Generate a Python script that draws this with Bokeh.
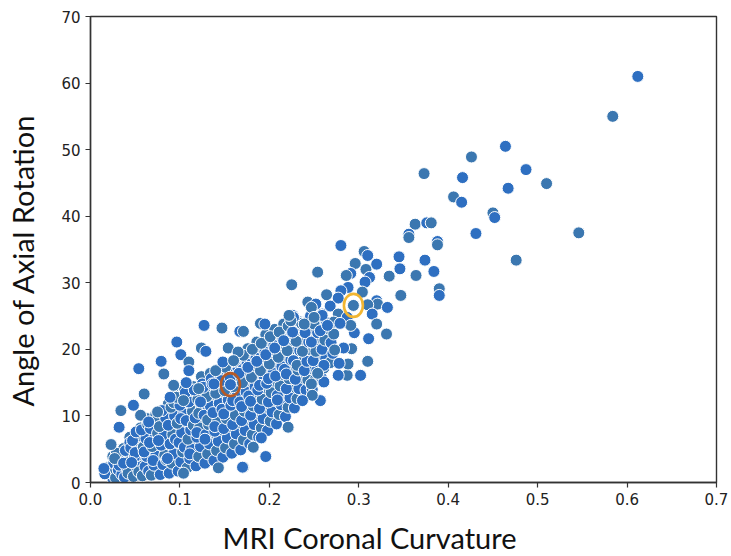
from bokeh.plotting import figure
from bokeh.models import FixedTicker, PrintfTickFormatter, Title, ColumnDataSource, Range1d
from bokeh.layouts import row
from bokeh.core.properties import value
from bokeh.embed import file_html
from bokeh.resources import INLINE

# ---------------- data ----------------
# dense cluster: MRI coronal curvature vs angle of axial rotation
cluster_curv = [
    0.018, 0.022, 0.025, 0.021, 0.026, 0.016,
    0.028, 0.031, 0.033, 0.029, 0.035, 0.032, 0.027,
    0.038, 0.041, 0.043, 0.039, 0.044, 0.042, 0.037, 0.045,
    0.048, 0.052, 0.049, 0.053, 0.047, 0.051, 0.054, 0.050, 0.046,
    0.058, 0.061, 0.063, 0.059, 0.062, 0.057, 0.064, 0.060, 0.065,
    0.068, 0.071, 0.073, 0.069, 0.072, 0.067, 0.074, 0.070, 0.066, 0.075,
    0.078, 0.081, 0.083, 0.079, 0.082, 0.077, 0.084, 0.080, 0.085, 0.076,
    0.088, 0.091, 0.093, 0.089, 0.092, 0.087, 0.094, 0.090, 0.095, 0.086, 0.093,
    0.098, 0.101, 0.103, 0.099, 0.102, 0.097, 0.104, 0.100, 0.096, 0.105, 0.101,
    0.108, 0.111, 0.113, 0.109, 0.112, 0.107, 0.114, 0.110, 0.106, 0.115, 0.111,
    0.118, 0.121, 0.123, 0.119, 0.122, 0.117, 0.124, 0.120, 0.116, 0.125, 0.121, 0.119,
    0.128, 0.131, 0.133, 0.129, 0.132, 0.127, 0.134, 0.130, 0.126, 0.135, 0.131, 0.128,
    0.138, 0.141, 0.143, 0.139, 0.142, 0.137, 0.144, 0.140, 0.136, 0.145, 0.141, 0.139,
    0.148, 0.151, 0.153, 0.149, 0.152, 0.147, 0.154, 0.150, 0.146, 0.155, 0.151, 0.149,
    0.158, 0.161, 0.163, 0.159, 0.162, 0.157, 0.164, 0.160, 0.156, 0.165, 0.161, 0.159,
    0.168, 0.171, 0.173, 0.169, 0.172, 0.167, 0.174, 0.170, 0.166, 0.175, 0.171, 0.169,
    0.178, 0.181, 0.183, 0.179, 0.182, 0.177, 0.184, 0.180, 0.176, 0.185, 0.181, 0.179,
    0.188, 0.191, 0.193, 0.189, 0.192, 0.187, 0.194, 0.190, 0.186, 0.195, 0.191, 0.189,
    0.198, 0.201, 0.203, 0.199, 0.202, 0.197, 0.204, 0.200, 0.196, 0.205, 0.201, 0.199,
    0.208, 0.211, 0.213, 0.209, 0.212, 0.207, 0.214, 0.210, 0.206, 0.215, 0.211, 0.209,
    0.218, 0.221, 0.223, 0.219, 0.222, 0.217, 0.224, 0.220, 0.216, 0.225, 0.221, 0.219,
    0.228, 0.231, 0.233, 0.229, 0.232, 0.227, 0.234, 0.230, 0.226, 0.235, 0.231,
    0.238, 0.241, 0.243, 0.239, 0.242, 0.237, 0.244, 0.240, 0.236, 0.245,
    0.248, 0.251, 0.253, 0.249, 0.252, 0.247, 0.254, 0.250, 0.246,
    0.258, 0.261, 0.263, 0.259, 0.262, 0.257, 0.264,
    0.268, 0.271, 0.269, 0.272,
]
cluster_rot = [
    2.2, 1.0, 0.6, 1.8, 2.9, 1.3,
    0.7, 1.9, 3.2, 4.4, 1.2, 2.6, 3.6,
    0.8, 2.1, 3.5, 4.8, 6.0, 1.4, 2.9, 5.2,
    0.9, 2.3, 3.8, 5.0, 6.3, 7.6, 1.6, 4.5, 3.0,
    1.0, 2.4, 3.9, 5.3, 6.6, 7.9, 8.7, 4.6, 1.7,
    1.1, 2.6, 4.0, 5.4, 6.8, 8.1, 9.3, 3.3, 6.0, 7.4,
    1.2, 2.7, 4.1, 5.6, 7.0, 8.4, 9.7, 10.8, 3.4, 6.3,
    1.4, 2.9, 4.3, 5.8, 7.2, 8.6, 10.0, 11.3, 6.5, 3.6, 12.0,
    1.7, 3.1, 4.6, 6.0, 7.5, 8.9, 10.3, 11.6, 12.8, 5.3, 9.6,
    2.2, 3.6, 5.0, 6.5, 7.9, 9.3, 10.7, 12.1, 13.5, 8.6, 4.3,
    2.5, 3.9, 5.4, 6.8, 8.2, 9.7, 11.1, 12.5, 13.9, 14.8, 10.4, 7.5,
    2.9, 4.3, 5.8, 7.2, 8.7, 10.1, 11.5, 12.9, 14.3, 15.6, 9.4, 6.5,
    3.3, 4.8, 6.2, 7.7, 9.1, 10.5, 11.9, 13.4, 14.8, 16.1, 16.9, 8.4,
    3.8, 5.2, 6.7, 8.1, 9.6, 11.0, 12.4, 13.8, 15.3, 16.5, 17.3, 10.3,
    4.4, 5.8, 7.3, 8.7, 10.1, 11.6, 13.0, 14.4, 15.8, 17.1, 18.2, 12.3,
    4.9, 6.4, 7.8, 9.3, 10.7, 12.1, 13.6, 15.0, 16.4, 17.8, 19.1, 11.4,
    5.8, 7.2, 8.7, 10.1, 11.5, 13.0, 14.4, 15.8, 17.3, 18.7, 20.0, 12.2,
    6.8, 8.2, 9.6, 11.1, 12.5, 13.9, 15.4, 16.8, 18.2, 19.6, 20.9, 14.6,
    7.8, 9.2, 10.6, 12.1, 13.5, 14.9, 16.4, 17.8, 19.2, 20.6, 21.9, 15.6,
    8.8, 10.2, 11.7, 13.1, 14.5, 16.0, 17.4, 18.8, 20.2, 21.6, 22.6, 12.4,
    9.9, 11.3, 12.7, 14.1, 15.6, 17.0, 18.4, 19.8, 21.3, 22.6, 23.5, 16.3,
    11.2, 12.6, 14.1, 15.5, 16.9, 18.3, 19.8, 21.2, 22.6, 23.9, 17.6,
    12.5, 13.9, 15.4, 16.8, 18.2, 19.7, 21.1, 22.5, 23.9, 24.8,
    14.0, 15.4, 16.8, 18.3, 19.7, 21.1, 22.5, 23.8, 25.0,
    15.8, 17.2, 18.6, 20.0, 21.4, 22.8, 24.0,
    18.0, 19.4, 21.0, 22.3,
]

# second layer of the dense cluster (points lying between the first layer)
fill_curv = [
    0.024, 0.026, 0.025,
    0.034, 0.036, 0.035, 0.037,
    0.043, 0.046, 0.045, 0.047, 0.044,
    0.053, 0.056, 0.055, 0.057, 0.054, 0.056,
    0.063, 0.066, 0.065, 0.067, 0.064, 0.066, 0.063,
    0.073, 0.076, 0.075, 0.077, 0.074, 0.076, 0.073,
    0.083, 0.086, 0.085, 0.087, 0.084, 0.086, 0.083, 0.087,
    0.093, 0.096, 0.095, 0.097, 0.094, 0.096, 0.093, 0.097, 0.095,
    0.103, 0.106, 0.105, 0.107, 0.104, 0.106, 0.103, 0.107, 0.105,
    0.113, 0.116, 0.115, 0.117, 0.114, 0.116, 0.113, 0.117, 0.115,
    0.123, 0.126, 0.125, 0.127, 0.124, 0.126, 0.123, 0.127, 0.125, 0.124,
    0.133, 0.136, 0.135, 0.137, 0.134, 0.136, 0.133, 0.137, 0.135, 0.134,
    0.143, 0.146, 0.145, 0.147, 0.144, 0.146, 0.143, 0.147, 0.145, 0.144,
    0.153, 0.156, 0.155, 0.157, 0.154, 0.156, 0.153, 0.157, 0.155, 0.154,
    0.163, 0.166, 0.165, 0.167, 0.164, 0.166, 0.163, 0.167, 0.165, 0.164, 0.166,
    0.173, 0.176, 0.175, 0.177, 0.174, 0.176, 0.173, 0.177, 0.175, 0.174, 0.176,
    0.183, 0.186, 0.185, 0.187, 0.184, 0.186, 0.183, 0.187, 0.185, 0.184, 0.186,
    0.193, 0.196, 0.195, 0.197, 0.194, 0.196, 0.193, 0.197, 0.195, 0.194, 0.196,
    0.203, 0.206, 0.205, 0.207, 0.204, 0.206, 0.203, 0.207, 0.205, 0.204, 0.206,
    0.213, 0.216, 0.215, 0.217, 0.214, 0.216, 0.213, 0.217, 0.215, 0.214, 0.216,
    0.223, 0.226, 0.225, 0.227, 0.224, 0.226, 0.223, 0.227, 0.225, 0.224,
    0.233, 0.236, 0.235, 0.237, 0.234, 0.236, 0.233, 0.237, 0.235,
    0.243, 0.246, 0.245, 0.247, 0.244, 0.246, 0.243, 0.247,
    0.253, 0.256, 0.255, 0.257, 0.254, 0.256, 0.253,
    0.263, 0.266, 0.265, 0.267, 0.264,
]
fill_rot = [
    1.4, 2.5, 3.9,
    0.9, 2.3, 3.8, 5.1,
    1.1, 2.5, 3.9, 5.5, 6.8,
    1.0, 2.7, 4.2, 5.7, 7.0, 8.2,
    1.3, 3.0, 4.4, 5.9, 7.3, 8.5, 9.6,
    1.5, 3.2, 4.6, 6.1, 7.6, 8.9, 10.2,
    1.8, 3.3, 4.9, 6.3, 7.8, 9.2, 10.5, 11.8,
    2.1, 3.7, 5.1, 6.6, 8.0, 9.4, 10.9, 12.3, 13.4,
    2.4, 4.0, 5.4, 6.9, 8.3, 9.8, 11.2, 12.6, 13.9,
    2.8, 4.4, 5.8, 7.3, 8.7, 10.2, 11.6, 13.0, 14.4,
    3.2, 4.7, 6.2, 7.6, 9.1, 10.5, 12.0, 13.4, 14.8, 15.9,
    3.6, 5.1, 6.6, 8.0, 9.5, 10.9, 12.3, 13.8, 15.2, 16.4,
    4.1, 5.6, 7.0, 8.5, 9.9, 11.3, 12.8, 14.2, 15.6, 16.9,
    4.6, 6.1, 7.5, 9.0, 10.4, 11.8, 13.3, 14.7, 16.1, 17.5,
    5.2, 6.7, 8.1, 9.6, 11.0, 12.4, 13.9, 15.3, 16.7, 18.1, 19.2,
    6.0, 7.5, 8.9, 10.4, 11.8, 13.2, 14.7, 16.1, 17.5, 18.9, 20.1,
    6.9, 8.4, 9.8, 11.3, 12.7, 14.1, 15.6, 17.0, 18.4, 19.8, 21.1,
    7.9, 9.4, 10.8, 12.3, 13.7, 15.1, 16.6, 18.0, 19.4, 20.8, 22.2,
    8.9, 10.4, 11.8, 13.3, 14.7, 16.1, 17.6, 19.0, 20.4, 21.8, 23.0,
    10.0, 11.5, 12.9, 14.4, 15.8, 17.2, 18.7, 20.1, 21.5, 22.9, 23.8,
    11.2, 12.7, 14.1, 15.6, 17.0, 18.4, 19.9, 21.3, 22.7, 24.0,
    12.6, 14.1, 15.5, 17.0, 18.4, 19.8, 21.3, 22.7, 24.1,
    14.2, 15.7, 17.1, 18.6, 20.0, 21.4, 22.9, 24.3,
    16.0, 17.5, 18.9, 20.4, 21.8, 23.2, 24.5,
    18.2, 19.7, 21.1, 22.6, 23.8,
]

# scattered points outside the dense band
sparse_curv = [
    0.612, 0.584, 0.464, 0.426, 0.487, 0.373, 0.416, 0.510, 0.467, 0.406,
    0.415, 0.450, 0.452, 0.363, 0.376, 0.381, 0.356, 0.356, 0.431, 0.546,
    0.388, 0.388, 0.374, 0.476, 0.345, 0.364, 0.384, 0.390, 0.390, 0.347,
    0.280, 0.306, 0.310, 0.296, 0.320, 0.308, 0.346, 0.254, 0.291, 0.286,
    0.312, 0.334, 0.307, 0.225, 0.288, 0.304, 0.280, 0.264, 0.277, 0.294,
    0.320, 0.321, 0.332, 0.243, 0.252, 0.247, 0.268, 0.310, 0.315, 0.277,
    0.259, 0.320, 0.295, 0.331, 0.311, 0.190, 0.226, 0.239, 0.259, 0.250,
    0.287, 0.272, 0.265, 0.291, 0.227, 0.224, 0.279, 0.310, 0.302, 0.287,
    0.277, 0.288, 0.278, 0.292, 0.283, 0.273, 0.261, 0.247, 0.257, 0.248,
    0.237, 0.221, 0.191, 0.182, 0.196, 0.171, 0.261, 0.254,
    0.127, 0.147, 0.167, 0.171, 0.0965, 0.124, 0.129, 0.154, 0.101, 0.165,
    0.079, 0.110, 0.054, 0.082, 0.110, 0.140, 0.148, 0.160, 0.1565, 0.093,
    0.107, 0.121, 0.138, 0.060, 0.048, 0.034, 0.032, 0.023, 0.015, 0.056,
    0.065, 0.075, 0.089, 0.104, 0.123, 0.143, 0.170, 0.104, 0.195, 0.222,
]
sparse_rot = [
    61.0, 55.0, 50.5, 48.9, 47.0, 46.4, 45.8, 44.9, 44.2, 42.9,
    42.1, 40.5, 39.8, 38.8, 39.0, 39.0, 37.3, 36.8, 37.4, 37.5,
    36.2, 35.7, 33.4, 33.4, 33.9, 31.1, 31.7, 29.1, 28.1, 28.1,
    35.6, 34.7, 34.1, 32.9, 32.8, 32.0, 32.1, 31.6, 31.4, 31.1,
    30.8, 31.0, 30.1, 29.7, 29.3, 28.6, 28.8, 28.2, 27.7, 26.6,
    27.3, 26.8, 26.3, 27.1, 26.8, 26.3, 26.5, 26.7, 25.3, 25.3,
    25.3, 23.8, 22.5, 22.3, 21.6, 23.9, 25.1, 23.8, 25.1, 24.8,
    24.8, 24.1, 23.6, 23.6, 24.8, 24.3, 23.9, 18.2, 16.1, 16.1,
    16.1, 17.8, 17.9, 20.1, 20.2, 19.9, 15.1, 14.8, 12.3, 13.1,
    12.3, 8.3, 6.7, 5.3, 3.9, 2.3, 17.6, 16.4,
    23.6, 23.2, 22.7, 22.7, 21.1, 20.2, 19.7, 20.2, 19.2, 19.6,
    18.2, 18.1, 17.1, 16.3, 16.8, 16.8, 18.1, 18.3, 14.7, 14.6,
    15.0, 14.1, 14.8, 13.3, 11.6, 10.8, 8.3, 5.7, 2.1, 10.1,
    9.1, 10.6, 12.8, 12.3, 12.1, 2.2, 2.3, 1.4, 23.8, 25.1,
]

# the two circled cases
marked_curv = [0.1565, 0.294]
marked_rot = [14.7, 26.6]
marked_color = ["#b65a26", "#f2b632"]

x_ticks = [0.0, 0.1, 0.2, 0.3, 0.4, 0.5, 0.6, 0.7]
y_ticks = [0, 10, 20, 30, 40, 50, 60, 70]
x_label = "MRI Coronal Curvature"
y_label = "Angle of Axial Rotation"

LABEL_W = 50

# ---------------- main figure ----------------
p = figure(
    width=731 - LABEL_W, height=556,
    frame_width=626, frame_height=466,
    x_range=Range1d(0, 0.7), y_range=Range1d(0, 70),
    output_backend="svg", toolbar_location=None,
    min_border_left=90 - LABEL_W, min_border_right=15, min_border_top=16, min_border_bottom=74,
)
p.background_fill_color = "white"
p.border_fill_color = "white"
p.grid.visible = False
p.outline_line_color = "#333333"
p.outline_line_width = 1.4

steel = "#3b77b0"
bright = "#2e6fc1"

# steel-toned points drawn first, brighter ones on top
fill_src = ColumnDataSource(dict(x=fill_curv, y=fill_rot))
p.scatter("x", "y", source=fill_src, size=12, fill_color=steel, line_color="white", line_width=1.0)

all_curv = cluster_curv + sparse_curv
all_rot = cluster_rot + sparse_rot
colors = [steel if i % 3 == 0 else bright for i in range(len(cluster_curv))] + \
         [bright if i % 2 == 0 else steel for i in range(len(sparse_curv))]
src = ColumnDataSource(dict(x=all_curv, y=all_rot, c=colors))
p.scatter("x", "y", source=src, size=12, fill_color="c", line_color="white", line_width=1.0)

msrc = ColumnDataSource(dict(x=marked_curv, y=marked_rot, c=marked_color))
p.ellipse("x", "y", source=msrc, width=19, height=23, width_units="screen", height_units="screen",
          fill_color=None, line_color="c", line_width=2.6)

for ax in (p.xaxis[0], p.yaxis[0]):
    ax.axis_line_color = "#333333"
    ax.axis_line_width = 1.4
    ax.major_tick_line_color = "#333333"
    ax.major_tick_line_width = 1.2
    ax.major_tick_out = 5
    ax.major_tick_in = 0
    ax.minor_tick_line_color = None
    ax.major_label_text_font = "DejaVu Sans"
    ax.major_label_text_font_size = "15px"
    ax.major_label_text_color = "#222222"
    ax.major_label_standoff = 5

p.xaxis[0].ticker = FixedTicker(ticks=x_ticks)
p.yaxis[0].ticker = FixedTicker(ticks=y_ticks)
p.xaxis[0].formatter = PrintfTickFormatter(format="%.1f")
p.yaxis[0].formatter = PrintfTickFormatter(format="%d")

p.add_layout(Title(text=x_label, align="left", offset=132, text_font="Lato",
                   text_font_size="29px", text_font_style="normal", text_color="#111111",
                   standoff=20), "below")

# ---------------- narrow strip carrying the vertical axis title ----------------
lab = figure(
    width=LABEL_W, height=556,
    x_range=Range1d(0, LABEL_W), y_range=Range1d(0, 556),
    x_axis_type=None, y_axis_type=None,
    output_backend="svg", toolbar_location=None,
    min_border=0,
)
lab.grid.visible = False
lab.outline_line_color = None
lab.background_fill_color = "white"
lab.border_fill_color = "white"
lab_src = ColumnDataSource(dict(x=[21.5], y=[260], t=[y_label]))
lab.text("x", "y", text="t", source=lab_src, angle=90, angle_units="deg",
         text_align="center", text_baseline="alphabetic",
         text_font=value("Lato"), text_font_size="29px", text_color="#111111")

layout = row(lab, p, spacing=0)
open("out.html", "w").write(file_html(layout, INLINE))
